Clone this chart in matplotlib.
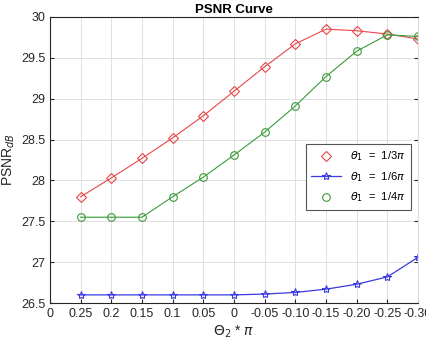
import matplotlib.pyplot as plt

plt.rcParams['font.family'] = ['Liberation Sans', 'DejaVu Sans']

xlabels = ['0', '0.25', '0.2', '0.15', '0.1', '0.05', '0',
           '-0.05', '-0.10', '-0.15', '-0.20', '-0.25', '-0.30']
xpos = list(range(1, 13))

psnr_13 = [27.80, 28.03, 28.27, 28.52, 28.79, 29.09, 29.39, 29.67, 29.85, 29.83, 29.79, 29.73]
psnr_16 = [26.60, 26.60, 26.60, 26.60, 26.60, 26.60, 26.61, 26.63, 26.67, 26.73, 26.82, 27.06]
psnr_14 = [27.55, 27.55, 27.55, 27.80, 28.04, 28.31, 28.59, 28.91, 29.27, 29.58, 29.78, 29.76]

fig = plt.figure(figsize=(4.27, 3.44), dpi=100)
ax = fig.add_axes([0.117, 0.119, 0.862, 0.832])

l1, = ax.plot(xpos, psnr_13, color='#e8474a', lw=0.8, marker='D', ms=5,
              mfc='none', mew=0.8)
l2, = ax.plot(xpos, psnr_16, color='#3a3ae0', lw=0.9, marker='*', ms=6,
              mfc='none', mew=0.8)
l3, = ax.plot(xpos, psnr_14, color='#3a9a3a', lw=0.8, marker='o', ms=5.5,
              mfc='none', mew=0.8)

# legend: red and green only markers, blue with line
h1, = ax.plot([], [], ls='none', color='#e8474a', marker='D', ms=5, mfc='none', mew=0.8)
h3, = ax.plot([], [], ls='none', color='#3a9a3a', marker='o', ms=5.5, mfc='none', mew=0.8)
leg = ax.legend([h1, l2, h3],
                [r'$\theta_1$  =  1/3$\pi$', r'$\theta_1$  =  1/6$\pi$', r'$\theta_1$  =  1/4$\pi$'],
                loc='upper left', bbox_to_anchor=(0.68, 0.575), fontsize=8,
                fancybox=False, framealpha=1, edgecolor='#555555',
                handlelength=2.7, borderpad=0.5, labelspacing=0.6)
leg.get_frame().set_linewidth(0.8)

ax.set_xlim(0, 12)
ax.set_ylim(26.5, 30)
ax.set_xticks(range(13))
ax.set_xticklabels(xlabels)
ax.set_yticks([26.5, 27, 27.5, 28, 28.5, 29, 29.5, 30])
ax.set_yticklabels(['26.5', '27', '27.5', '28', '28.5', '29', '29.5', '30'])
ax.grid(True, color='#e0e0e0', lw=0.7)
ax.set_axisbelow(True)
ax.tick_params(direction='in', length=3, labelsize=9, colors='#262626',
               right=True, top=False)
for s in ['left', 'bottom', 'top']:
    ax.spines[s].set_color('#262626')
    ax.spines[s].set_linewidth(0.8)
ax.spines['right'].set_color('#dddddd')

ax.set_title('PSNR Curve', fontsize=9.5, fontweight='bold', pad=3)
ax.set_ylabel(r'PSNR$_{dB}$', fontsize=10, color='#262626', labelpad=3)
ax.set_xlabel(r'$\Theta_2$ * $\pi$', fontsize=10, color='#262626', labelpad=3)

fig.savefig('out.png', dpi=100)
